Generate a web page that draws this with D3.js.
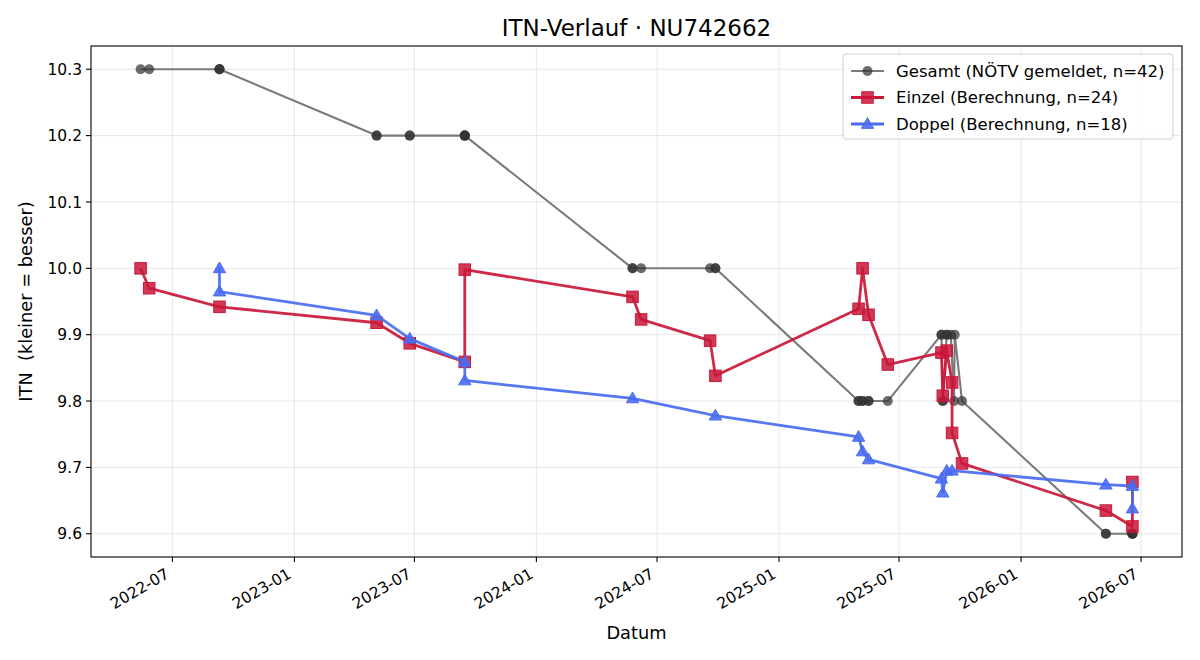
<!DOCTYPE html>
<html>
<head>
<meta charset="utf-8">
<script src="https://cdn.jsdelivr.net/npm/d3@7"></script>
<style>
  html, body { margin: 0; padding: 0; background: #fff; }
  text { font-family: "DejaVu Sans", sans-serif; fill: #000; white-space: pre; }
</style>
</head>
<body>
<svg id="chart" width="1200" height="660"></svg>
<script>
// ---------- data ----------
const gesamtDates = [
  "2022-05-14","2022-05-27","2022-09-10","2022-09-10","2022-09-10",
  "2023-05-05","2023-05-05","2023-06-24","2023-06-24",
  "2023-09-15","2023-09-15","2023-09-15","2023-09-15",
  "2024-05-25","2024-05-25","2024-06-07","2024-09-19","2024-09-27","2024-09-27",
  "2025-05-01","2025-05-01","2025-05-07","2025-05-07","2025-05-16","2025-05-16","2025-06-14",
  "2025-09-03","2025-09-03","2025-09-05","2025-09-05","2025-09-11","2025-09-11",
  "2025-09-17","2025-09-22","2025-09-23","2025-10-04",
  "2026-05-09","2026-05-09","2026-06-18","2026-06-18","2026-06-18","2026-06-18"
];
const gesamtValues = [
  10.3,10.3,10.3,10.3,10.3,
  10.2,10.2,10.2,10.2,
  10.2,10.2,10.2,10.2,
  10.0,10.0,10.0,10.0,10.0,10.0,
  9.8,9.8,9.8,9.8,9.8,9.8,9.8,
  9.9,9.9,9.8,9.8,9.9,9.9,
  9.9,9.8,9.9,9.8,
  9.6,9.6,9.6,9.6,9.6,9.6
];
const einzelDates = [
  "2022-05-14","2022-05-27","2022-09-10","2023-05-05","2023-06-24","2023-09-15","2023-09-15",
  "2024-05-25","2024-06-07","2024-09-19","2024-09-27",
  "2025-05-01","2025-05-07","2025-05-16","2025-06-14",
  "2025-09-03","2025-09-05","2025-09-11","2025-09-19","2025-09-19","2025-10-04",
  "2026-05-09","2026-06-18","2026-06-18"
];
const einzelValues = [
  10.0, 9.97, 9.942, 9.918, 9.887, 9.859, 9.998,
  9.957, 9.923, 9.891, 9.838,
  9.939, 10.0, 9.930, 9.855,
  9.873, 9.808, 9.876, 9.828, 9.752, 9.706,
  9.635, 9.611, 9.678
];
const doppelDates = [
  "2022-09-10","2022-09-10","2023-05-05","2023-06-24","2023-09-15","2023-09-15",
  "2024-05-25","2024-09-27",
  "2025-05-01","2025-05-07","2025-05-16",
  "2025-09-03","2025-09-05","2025-09-11","2025-09-19",
  "2026-05-09","2026-06-18","2026-06-18"
];
const doppelValues = [
  10.0, 9.965, 9.929, 9.894, 9.859, 9.831,
  9.804, 9.778,
  9.746, 9.724, 9.712,
  9.683, 9.662, 9.695, 9.695,
  9.674, 9.672, 9.638
];
const yTickValues = [9.6, 9.7, 9.8, 9.9, 10.0, 10.1, 10.2, 10.3];
const seriesLabels = ["Gesamt (NÖTV gemeldet, n=42)", "Einzel (Berechnung, n=24)", "Doppel (Berechnung, n=18)"];
const titleText = "ITN-Verlauf · NU742662";
const xLabelText = "Datum";
const yLabelText = "ITN  (kleiner = besser)";

// ---------- setup ----------
const parse = d3.utcParse("%Y-%m-%d");
const mk = (ds, vs) => ds.map((d, i) => ({ date: parse(d), value: vs[i] }));
const gesamt = mk(gesamtDates, gesamtValues);
const einzel = mk(einzelDates, einzelValues);
const doppel = mk(doppelDates, doppelValues);
const all = gesamt.concat(einzel, doppel);

const M = { left: 91, right: 1182, top: 46, bottom: 557 };
const svg = d3.select("#chart");

const [dMin, dMax] = d3.extent(all, d => d.date);
const span = dMax - dMin;
const x = d3.scaleUtc()
  .domain([new Date(+dMin - span * 0.05), new Date(+dMax + span * 0.05)])
  .range([M.left, M.right]);
const [vMin, vMax] = d3.extent(all, d => d.value);
const vPad = (vMax - vMin) * 0.05;
const y = d3.scaleLinear().domain([vMin - vPad, vMax + vPad]).range([M.bottom, M.top]);

const xTicks = x.ticks(d3.utcMonth.every(6));
const fmt = d3.utcFormat("%Y-%m");

// grid
const grid = svg.append("g");
grid.selectAll(".gx").data(xTicks).join("line")
  .attr("x1", d => x(d)).attr("x2", d => x(d))
  .attr("y1", M.top).attr("y2", M.bottom)
  .attr("stroke", "#b0b0b0").attr("stroke-opacity", 0.3).attr("stroke-width", 1);
grid.selectAll(".gy").data(yTickValues).join("line")
  .attr("x1", M.left).attr("x2", M.right)
  .attr("y1", d => y(d)).attr("y2", d => y(d))
  .attr("stroke", "#b0b0b0").attr("stroke-opacity", 0.3).attr("stroke-width", 1);

// series
const line = d3.line().x(d => x(d.date)).y(d => y(d.value));
const plot = svg.append("g");

// Gesamt
plot.append("path").datum(gesamt).attr("d", line)
  .attr("fill", "none").attr("stroke", "#7a7a7a").attr("stroke-width", 2.1)
  .attr("stroke-linejoin", "round");
plot.selectAll(".gc").data(gesamt).join("circle")
  .attr("cx", d => x(d.date)).attr("cy", d => y(d.value)).attr("r", 5)
  .attr("fill", "#333").attr("fill-opacity", 0.72);

// Einzel
const redC = "#c9183a";
plot.append("path").datum(einzel).attr("d", line)
  .attr("fill", "none").attr("stroke", redC).attr("stroke-opacity", 0.92).attr("stroke-width", 2.8)
  .attr("stroke-linejoin", "round");
plot.selectAll(".es").data(einzel).join("rect")
  .attr("x", d => x(d.date) - 5.75).attr("y", d => y(d.value) - 5.75)
  .attr("width", 11.5).attr("height", 11.5)
  .attr("fill", redC).attr("fill-opacity", 0.85)
  .attr("stroke", redC).attr("stroke-width", 1);

// Doppel
const blueC = "#4a6cf0";
const tri = d3.symbol().type(d3.symbolTriangle).size(66);
plot.append("path").datum(doppel).attr("d", line)
  .attr("fill", "none").attr("stroke", blueC).attr("stroke-opacity", 0.92).attr("stroke-width", 2.8)
  .attr("stroke-linejoin", "round");
plot.selectAll(".dt").data(doppel).join("path")
  .attr("d", tri)
  .attr("transform", d => `translate(${x(d.date)},${y(d.value) + 0.8})`)
  .attr("fill", blueC).attr("fill-opacity", 0.9)
  .attr("stroke", blueC).attr("stroke-width", 1);

// frame
svg.append("rect").attr("x", M.left).attr("y", M.top)
  .attr("width", M.right - M.left).attr("height", M.bottom - M.top)
  .attr("fill", "none").attr("stroke", "#000").attr("stroke-width", 1.1);

// x axis ticks
const xa = svg.append("g");
xTicks.forEach(t => {
  const px = x(t);
  xa.append("line").attr("x1", px).attr("x2", px).attr("y1", M.bottom).attr("y2", M.bottom + 5)
    .attr("stroke", "#000").attr("stroke-width", 1.1);
  xa.append("text")
    .attr("transform", `translate(${px - 2},${M.bottom + 20}) rotate(-30)`)
    .attr("text-anchor", "end").attr("font-size", 15.5).text(fmt(t));
});
// y axis ticks
const ya = svg.append("g");
yTickValues.forEach(v => {
  const py = y(v);
  ya.append("line").attr("x1", M.left - 5).attr("x2", M.left).attr("y1", py).attr("y2", py)
    .attr("stroke", "#000").attr("stroke-width", 1.1);
  ya.append("text").attr("x", M.left - 9).attr("y", py).attr("dy", "0.36em")
    .attr("text-anchor", "end").attr("font-size", 15.5).text(d3.format(".1f")(v));
});

// labels
svg.append("text").attr("x", (M.left + M.right) / 2).attr("y", 36)
  .attr("text-anchor", "middle").attr("font-size", 23).text(titleText);
svg.append("text").attr("x", (M.left + M.right) / 2).attr("y", 639)
  .attr("text-anchor", "middle").attr("font-size", 17.8).text(xLabelText);
svg.append("text").attr("transform", `translate(32,${(M.top + M.bottom) / 2}) rotate(-90)`)
  .attr("text-anchor", "middle").attr("font-size", 17.8).text(yLabelText);

// legend
const lg = svg.append("g");
lg.append("rect").attr("x", 843).attr("y", 54).attr("width", 330).attr("height", 85)
  .attr("rx", 3).attr("fill", "#fff").attr("fill-opacity", 0.85)
  .attr("stroke", "#d0d0d0").attr("stroke-width", 1);
const rows = [71, 97.5, 124];
const styles = [
  { c: "#7a7a7a", mc: "#333", w: 2.1, shape: "circle" },
  { c: redC, mc: redC, w: 2.8, shape: "square" },
  { c: blueC, mc: blueC, w: 2.8, shape: "triangle" }
];
seriesLabels.forEach((lab, i) => {
  const ry = rows[i], s = styles[i];
  lg.append("line").attr("x1", 851).attr("x2", 884).attr("y1", ry).attr("y2", ry)
    .attr("stroke", s.c).attr("stroke-width", s.w);
  if (s.shape === "circle") {
    lg.append("circle").attr("cx", 867.5).attr("cy", ry).attr("r", 5).attr("fill", s.mc).attr("fill-opacity", 0.72);
  } else if (s.shape === "square") {
    lg.append("rect").attr("x", 861.75).attr("y", ry - 5.75).attr("width", 11.5).attr("height", 11.5)
      .attr("fill", s.mc).attr("fill-opacity", 0.85).attr("stroke", s.mc);
  } else {
    lg.append("path").attr("d", tri).attr("transform", `translate(867.5,${ry + 0.8})`)
      .attr("fill", s.mc).attr("fill-opacity", 0.9).attr("stroke", s.mc);
  }
  lg.append("text").attr("x", 896).attr("y", ry).attr("dy", "0.36em")
    .attr("font-size", 16.5).text(lab);
});
</script>
</body>
</html>
